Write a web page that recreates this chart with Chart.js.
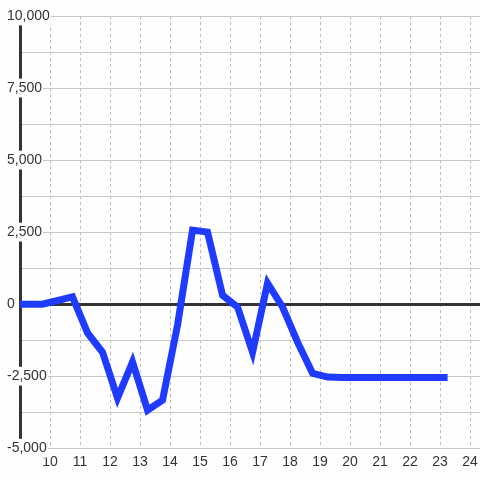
<!DOCTYPE html>
<html>
<head>
<meta charset="utf-8">
<script src="https://cdn.jsdelivr.net/npm/chart.js@4/dist/chart.umd.min.js"></script>
<style>
  html, body { margin: 0; padding: 0; background: #fdfefd; }
  #wrap { width: 480px; height: 480px; }
</style>
</head>
<body>
<div id="wrap"><canvas id="chart"></canvas></div>
<script>
/* values */
const hours  = [9, 9.75, 10.75, 11.25, 11.75, 12.25, 12.75, 13.25, 13.75, 14.25, 14.75, 15.25, 15.75,
                16.25, 16.75, 17.25, 17.75, 18.25, 18.75, 19.25, 19.75, 20.25, 20.75, 21.25, 21.75,
                22.25, 22.75, 23.25];
const values = [0, 0, 250, -1000, -1670, -3260, -2010, -3680, -3330, -730, 2570, 2500, 310,
                -100, -1670, 730, -100, -1320, -2400, -2530, -2550, -2550, -2550, -2550, -2550,
                -2550, -2550, -2550];
const yLabelTicks = [-5000, -2500, 0, 2500, 5000, 7500, 10000];

const ink = '#333333';
const bg  = '#fdfefd';

new Chart(document.getElementById('chart'), {
    type: 'line',
    data: {
        datasets: [{
            data: hours.map((h, i) => ({ x: h, y: values[i] })),
            borderColor: '#1e3bff', borderWidth: 7, tension: 0,
            pointRadius: 0, pointHoverRadius: 0, fill: false
        }]
    },
    options: {
        responsive: true, maintainAspectRatio: false, animation: false,
        layout: { padding: { left: 7, top: 16, right: 0, bottom: 3 } },
        plugins: { legend: { display: false }, tooltip: { enabled: false } },
        scales: {
            x: {
                type: 'linear', min: 9, max: 24.33,
                afterFit: s => { s.paddingLeft = 0; s.paddingRight = 0; },
                grid: {
                    drawTicks: false, lineWidth: 1,
                    color: c => (c.tick && c.tick.value === 9 ? 'rgba(0,0,0,0)' : '#bdbdbd')
                },
                border: { display: true, color: '#c8c8c8', width: 1, dash: [3, 3] },
                ticks: {
                    stepSize: 1, includeBounds: false, color: ink, padding: 6, maxRotation: 0,
                    font: { family: 'Liberation Sans', size: 14 },
                    callback: v => (v === 9 ? '' : String(v))
                }
            },
            y: {
                min: -5000, max: 10000,
                afterFit: s => { s.width = 13; },
                grid: {
                    drawTicks: false,
                    color: c => (c.tick && c.tick.value === 0 ? ink : '#c8c8c8'),
                    lineWidth: c => (c.tick && c.tick.value === 0 ? 3 : 1)
                },
                border: { display: true, color: ink, width: 3 },
                ticks: {
                    stepSize: 1250, mirror: true, crossAlign: 'near', padding: -13, color: ink,
                    font: { family: 'Liberation Sans', size: 14 },
                    showLabelBackdrop: c => yLabelTicks.includes(c.tick.value),
                    backdropColor: bg, backdropPadding: 1,
                    callback: v => (yLabelTicks.includes(v) ? v.toLocaleString('en-US') : '')
                }
            }
        }
    }
});
</script>
</body>
</html>
